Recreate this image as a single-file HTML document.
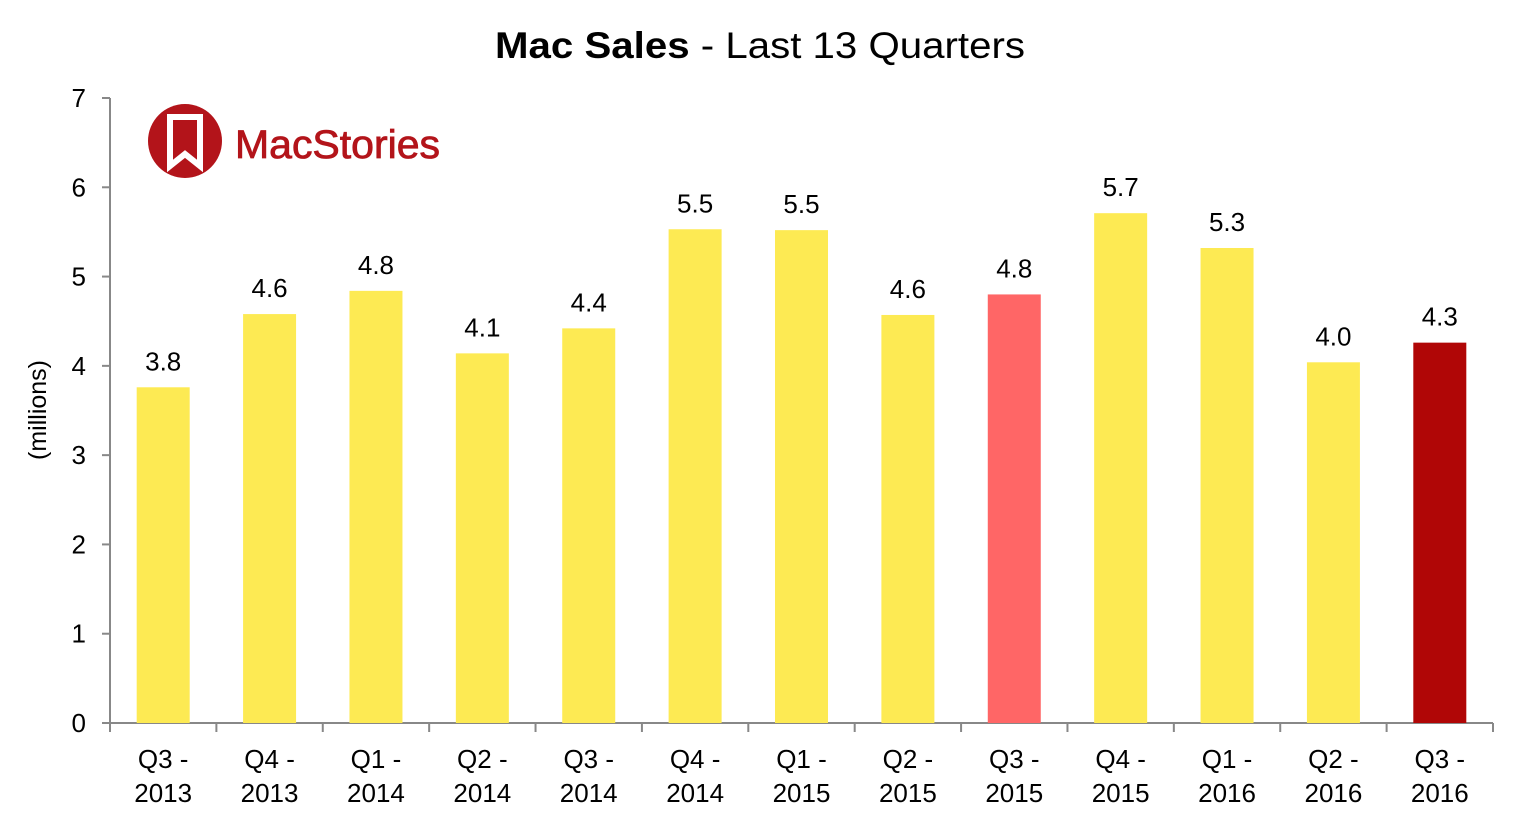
<!DOCTYPE html>
<html><head><meta charset="utf-8"><style>
html,body{margin:0;padding:0;background:#fff;}
svg{display:block;font-family:"Liberation Sans",Arial,sans-serif;}
</style></head><body>
<svg id="chart" width="1520" height="821" viewBox="0 0 1520 821">
<text x="760" y="58" text-anchor="middle" font-size="37" fill="#000" textLength="530" lengthAdjust="spacingAndGlyphs"><tspan font-weight="bold">Mac Sales</tspan> - Last 13 Quarters</text>
<text transform="translate(46,410) rotate(-90)" text-anchor="middle" font-size="25" fill="#000">(millions)</text>
<g>
<circle cx="185" cy="141" r="37" fill="#b3141a"/>
<path d="M170 117 H200 V166 L185 154 L170 166 Z" fill="none" stroke="#fff" stroke-width="6" stroke-linejoin="miter"/>
<text x="235" y="158" font-size="40" fill="#b3141a" stroke="#b3141a" stroke-width="0.8" textLength="205" lengthAdjust="spacingAndGlyphs">MacStories</text>
</g>
<g id="axes"></g>
<g id="bars"></g>
</svg>
<script>
const categories=["Q3 -|2013","Q4 -|2013","Q1 -|2014","Q2 -|2014","Q3 -|2014","Q4 -|2014","Q1 -|2015","Q2 -|2015","Q3 -|2015","Q4 -|2015","Q1 -|2016","Q2 -|2016","Q3 -|2016"];
const values=[3.76,4.58,4.84,4.14,4.42,5.53,5.52,4.57,4.80,5.71,5.32,4.04,4.26];
const barColors=["#fdea53","#fdea53","#fdea53","#fdea53","#fdea53","#fdea53","#fdea53","#fdea53","#ff6666","#fdea53","#fdea53","#fdea53","#b00606"];
const yTicks=[0,1,2,3,4,5,6,7];
const NS="http://www.w3.org/2000/svg";
const x0=110,x1=1493,y0=723,yTop=98,yMax=7;
const band=(x1-x0)/categories.length;
const y=v=>y0-(v/yMax)*(y0-yTop);
const xc=i=>x0+band*(i+0.5);
function mk(tag,attrs,parent,text){const e=document.createElementNS(NS,tag);for(const k in attrs)e.setAttribute(k,attrs[k]);if(text!==undefined)e.textContent=text;parent.appendChild(e);return e;}
const ax=document.getElementById('axes'),bg=document.getElementById('bars');
const ya=mk('line',{x1:x0,y1:y(yMax),x2:x0,y2:y0,stroke:'#888','stroke-width':2},ax);


yTicks.forEach(t=>{
 const l=mk('line',{x1:x0-8,y1:y(t),x2:x0,y2:y(t),stroke:'#888','stroke-width':2},ax);
 
 
 const tx=mk('text',{x:x0-24,y:y(t)+9,'text-anchor':'end','font-size':26},ax,String(t));
 
 
});
const xa=mk('line',{x1:x0,y1:y0,x2:x1,y2:y0,stroke:'#888','stroke-width':2},ax);


for(let i=0;i<=categories.length;i++){
 const l=mk('line',{x1:x0+band*i,y1:y0,x2:x0+band*i,y2:y0+9,stroke:'#888','stroke-width':2},ax);
 
 
}
const bw=53;
categories.forEach((c,i)=>{
 const r=mk('rect',{x:xc(i)-bw/2,y:y(values[i]),width:bw,height:y0-y(values[i]),fill:barColors[i]},bg);
 
 
 const v=mk('text',{x:xc(i),y:y(values[i])-17,'text-anchor':'middle','font-size':26},bg,values[i].toFixed(1));
 
 
 const parts=c.split('|');
 const t=mk('text',{x:xc(i),y:768,'text-anchor':'middle','font-size':26},ax);
 
 
 mk('tspan',{x:xc(i),dy:0},t,parts[0]);
 mk('tspan',{x:xc(i),dy:34},t,parts[1]);
});
</script>
</body></html>
